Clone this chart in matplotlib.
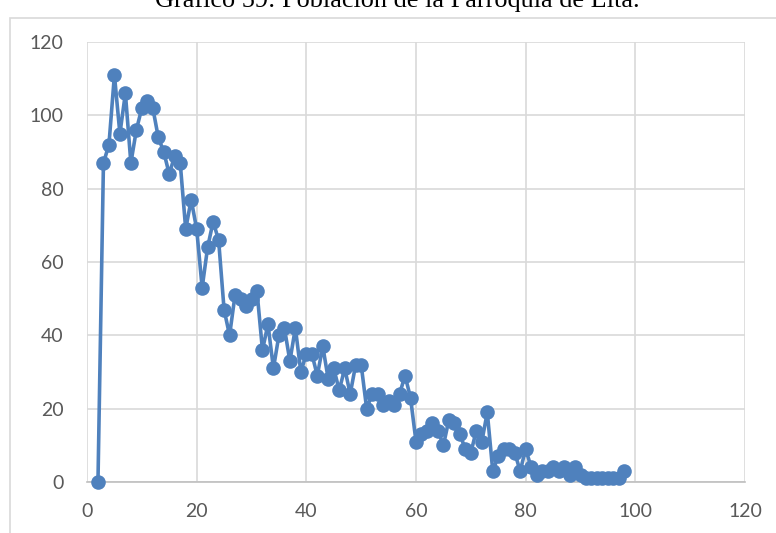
import matplotlib
matplotlib.use("Agg")
import matplotlib.pyplot as plt
from matplotlib.patches import Rectangle

# edad (años) y número de habitantes
edad = list(range(2, 99))
poblacion = [
    0, 87, 92, 111, 95, 106, 87, 96, 102, 104,      # 2-11
    102, 94, 90, 84, 89, 87, 69, 77, 69, 53,        # 12-21
    64, 71, 66, 47, 40, 51, 50, 48, 50, 52,         # 22-31
    36, 43, 31, 40, 42, 33, 42, 30, 35, 35,         # 32-41
    29, 37, 28, 31, 25, 31, 24, 32, 32, 20,         # 42-51
    24, 24, 21, 22, 21, 24, 29, 23, 11, 13,         # 52-61
    14, 16, 14, 10, 17, 16, 13, 9, 8, 14,           # 62-71
    11, 19, 3, 7, 9, 9, 8, 3, 9, 4,                 # 72-81
    2, 3, 3, 4, 3, 4, 2, 4, 2, 1,                   # 82-91
    1, 1, 1, 1, 1, 1, 3,                            # 92-98
]
xticks = [0, 20, 40, 60, 80, 100, 120]
yticks = [0, 20, 40, 60, 80, 100, 120]
titulo = "Gráfico 59: Población de la Parroquia de Lita."

W, H = 776, 533
fig = plt.figure(figsize=(W / 100, H / 100), dpi=100)
fig.patch.set_facecolor("white")

# chart frame (cut at right/bottom like the screenshot)
fig.patches.append(Rectangle((10 / W, -0.05), 1.0, 1 - 18 / H + 0.05, transform=fig.transFigure,
                             fill=False, edgecolor="#d9d9d9", lw=1.2))

fig.text(397 / W, 1 - 7 / H, titulo, ha="center", va="baseline",
         family="Liberation Serif", fontsize=18.9, color="black")

ax = fig.add_axes([87 / W, 1 - 482 / H, (745 - 87) / W, (482 - 42) / H])
ax.plot(edad, poblacion, color="#4f81bd", lw=2.6, marker="o", ms=10.5,
        markeredgewidth=0, zorder=3, clip_on=False)

ax.set_xlim(0, 120)
ax.set_ylim(0, 120)
ax.set_xticks(xticks)
ax.set_yticks(yticks)
ax.grid(True, color="#d9d9d9", lw=1.2)
ax.set_axisbelow(True)
for s in ["top", "right", "left"]:
    ax.spines[s].set_visible(False)
ax.spines["bottom"].set_color("#bfbfbf")
ax.spines["bottom"].set_linewidth(1.2)
ax.tick_params(length=0, labelsize=14, labelcolor="#595959")
ax.tick_params(axis="y", pad=17)
ax.tick_params(axis="x", pad=15)
for lab in ax.get_xticklabels() + ax.get_yticklabels():
    lab.set_family("Lato")

fig.savefig("out.png", dpi=100, facecolor="white")
